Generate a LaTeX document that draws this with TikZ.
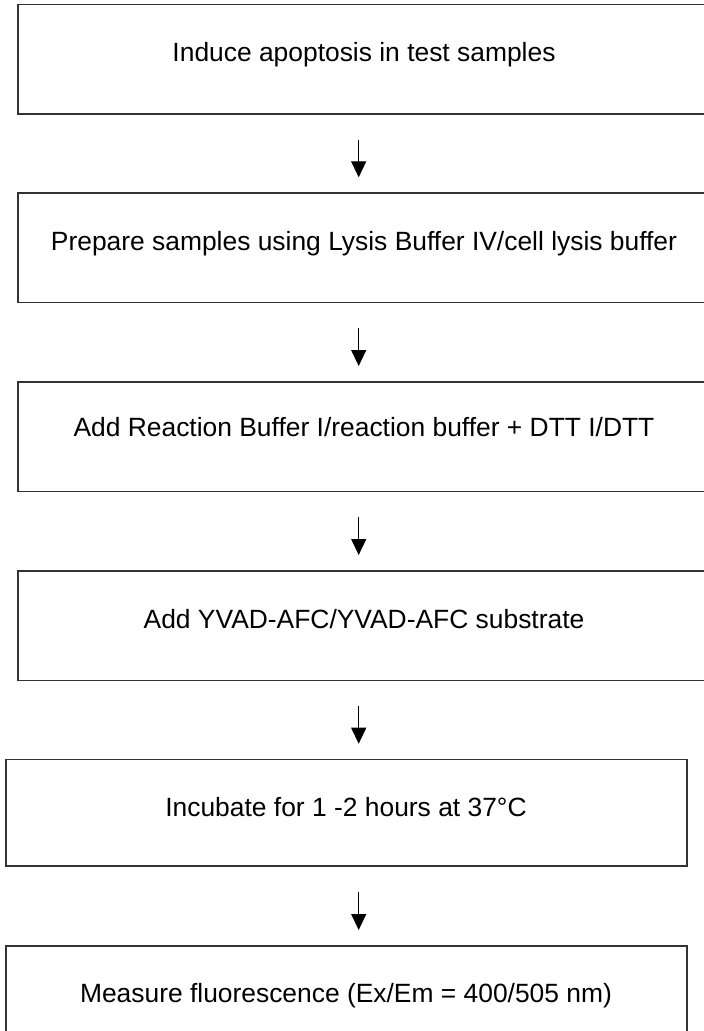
\documentclass[tikz,border=0pt]{standalone}
\usepackage{fontspec}
\setmainfont{Liberation Sans}
\usetikzlibrary{arrows.meta}
\begin{document}
\begin{tikzpicture}[x=1pt,y=-1pt,
  stepbox/.style={draw=black!80, line width=1.6pt, rectangle, inner sep=0pt, anchor=north west},
  steptext/.style={anchor=base, inner sep=0pt, font=\fontsize{26.4}{30}\selectfont},
  flowarrow/.style={line width=1.3pt, -{Triangle[width=15pt,length=16pt]}, shorten <=25pt, shorten >=15pt}]
\useasboundingbox (0,0) rectangle (704,1031);
\coordinate (ax) at (358.7,0);
% boxes
\node[stepbox, minimum width=694pt, minimum height=109.3pt] (b1) at (17,3.7) {};
\node[stepbox, minimum width=694pt, minimum height=109.3pt] (b2) at (17,192.3) {};
\node[stepbox, minimum width=694pt, minimum height=109.5pt] (b3) at (17,381) {};
\node[stepbox, minimum width=694pt, minimum height=109.5pt] (b4) at (17,570) {};
\node[stepbox, minimum width=680.6pt, minimum height=106.3pt] (b5) at (5.4,758.7) {};
\node[stepbox, minimum width=680.6pt, minimum height=110pt] (b6) at (5.4,945) {};
% texts
\node[steptext] (t1) at (364,61.7) {Induce apoptosis in test samples};
\node[steptext] (t2) at (364,250) {Prepare samples using Lysis Buffer IV/cell lysis buffer};
\node[steptext] (t3) at (364,436) {Add Reaction Buffer I/reaction buffer + DTT I/DTT};
\node[steptext] (t4) at (364,628) {Add YVAD-AFC/YVAD-AFC substrate};
\node[steptext] (t5) at (346,816.7) {Incubate for 1 -2 hours at 37°C};
\node[steptext] (t6) at (346,1002.7) {Measure fluorescence (Ex/Em = 400/505 nm)};
% arrows
\draw[flowarrow] (b1.south -| ax) -- (b2.north -| ax);
\draw[flowarrow] (b2.south -| ax) -- (b3.north -| ax);
\draw[flowarrow] (b3.south -| ax) -- (b4.north -| ax);
\draw[flowarrow] (b4.south -| ax) -- (b5.north -| ax);
\draw[flowarrow] (b5.south -| ax) -- (b6.north -| ax);
\end{tikzpicture}
\end{document}
